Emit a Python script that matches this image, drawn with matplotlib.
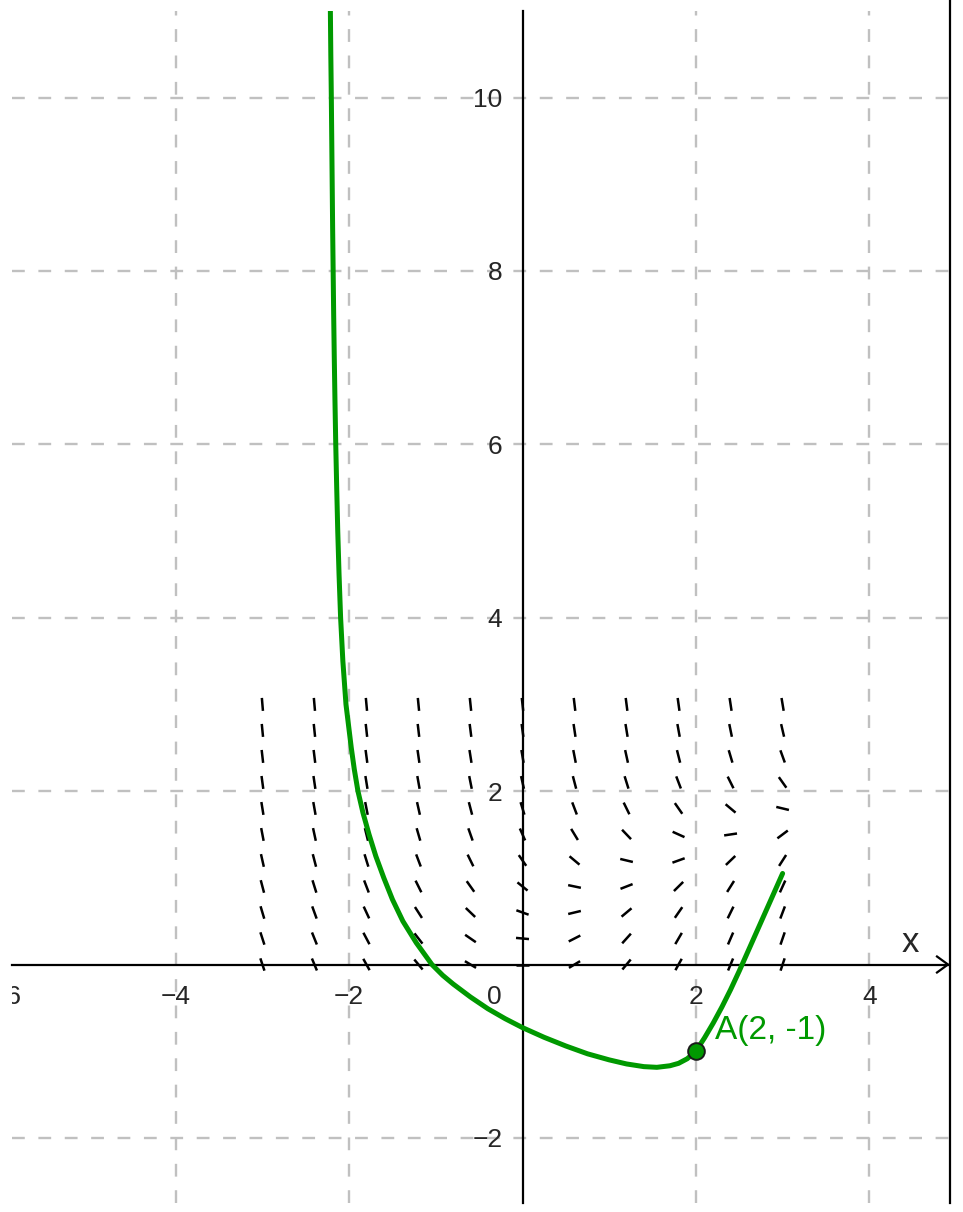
import matplotlib
matplotlib.use('Agg')
import numpy as np
import matplotlib.pyplot as plt
from matplotlib.collections import LineCollection
from matplotlib.lines import Line2D
from matplotlib import transforms

plt.rcParams['font.family'] = ['Liberation Sans', 'DejaVu Sans']
plt.rcParams['lines.scale_dashes'] = False
plt.rcParams['axes.unicode_minus'] = True

# ---------------- data ----------------
# slope field grid
field_x = [-3.0, -2.4, -1.8, -1.2, -0.6, 0.0, 0.6, 1.2, 1.8, 2.4, 3.0]
field_y = [0.0, 0.3, 0.6, 0.9, 1.2, 1.5, 1.8, 2.1, 2.4, 2.7, 3.0]
# dy/dx at each grid point (rows follow field_y, columns follow field_x)
field_slopes = [
    [-3.00, -2.40, -1.80, -1.20, -0.60, 0.00, 0.60, 1.20, 1.80, 2.40, 3.00],
    [-3.09, -2.49, -1.89, -1.29, -0.69, -0.09, 0.51, 1.11, 1.71, 2.31, 2.91],
    [-3.36, -2.76, -2.16, -1.56, -0.96, -0.36, 0.24, 0.84, 1.44, 2.04, 2.64],
    [-3.81, -3.21, -2.61, -2.01, -1.41, -0.81, -0.21, 0.39, 0.99, 1.59, 2.19],
    [-4.44, -3.84, -3.24, -2.64, -2.04, -1.44, -0.84, -0.24, 0.36, 0.96, 1.56],
    [-5.25, -4.65, -4.05, -3.45, -2.85, -2.25, -1.65, -1.05, -0.45, 0.15, 0.75],
    [-6.24, -5.64, -5.04, -4.44, -3.84, -3.24, -2.64, -2.04, -1.44, -0.84, -0.24],
    [-7.41, -6.81, -6.21, -5.61, -5.01, -4.41, -3.81, -3.21, -2.61, -2.01, -1.41],
    [-8.76, -8.16, -7.56, -6.96, -6.36, -5.76, -5.16, -4.56, -3.96, -3.36, -2.76],
    [-10.29, -9.69, -9.09, -8.49, -7.89, -7.29, -6.69, -6.09, -5.49, -4.89, -4.29],
    [-12.00, -11.40, -10.80, -10.20, -9.60, -9.00, -8.40, -7.80, -7.20, -6.60, -6.00],
]

# solution curve through A
curve_x = [-2.218, -2.211, -2.205, -2.200, -2.195, -2.190, -2.184, -2.178, -2.171,
           -2.163, -2.154, -2.143, -2.131, -2.116, -2.098, -2.072, -2.036, -1.975,
           -1.940, -1.898, -1.840, -1.770, -1.692, -1.600, -1.500, -1.380, -1.225,
           -1.045, -0.920, -0.800, -0.600, -0.400, -0.200, 0.000, 0.250, 0.500,
           0.750, 1.000, 1.200, 1.400, 1.550, 1.700, 1.800, 1.900, 2.000,
           2.100, 2.200, 2.300, 2.400, 2.500, 2.600, 2.700, 2.800, 2.900, 3.000]
curve_y = [11.2, 10.5, 10.0, 9.5, 9.0, 8.5, 8.0, 7.5, 7.0,
           6.5, 6.0, 5.5, 5.0, 4.5, 4.0, 3.5, 3.0, 2.5,
           2.25, 2.0, 1.75, 1.5, 1.25, 1.0, 0.75, 0.5, 0.25,
           0.0, -0.125, -0.225, -0.375, -0.51, -0.625, -0.728, -0.84, -0.94,
           -1.03, -1.10, -1.147, -1.178, -1.186, -1.168, -1.14, -1.087, -1.0,
           -0.845, -0.675, -0.49, -0.29, -0.075, 0.15, 0.375, 0.60, 0.825, 1.05]

point_x = [2.0]
point_y = [-1.0]
point_label = 'A(2, -1)'

x_ticks = [-4, -2, 2, 4]
x_tick_labels = ['\u22124', '\u22122', '2', '4']
y_ticks = [-2, 2, 4, 6, 8, 10]
y_tick_labels = ['\u22122', '2', '4', '6', '8', '10']
x_axis_label = 'x'

# ---------------- layout ----------------
W, H = 963, 1212
fig = plt.figure(figsize=(W / 100, H / 100), dpi=100)
fig.patch.set_facecolor('white')
L, R, T, B = 12, 950, 11, 1203
ax = fig.add_axes([L / W, 1 - B / H, (R - L) / W, (B - T) / H])
x0px, y0px, unit = 522.5, 964.5, 86.7
xmin, xmax = (L - x0px) / unit, (R - x0px) / unit
ymin, ymax = (y0px - B) / unit, (y0px - T) / unit
ax.set_xlim(xmin, xmax)
ax.set_ylim(ymin, ymax)

GREEN = '#009900'
GRID = '#c0c0c0'
TXT = '#262626'

# grid
ax.set_xticks(x_ticks)
ax.set_xticklabels(x_tick_labels)
ax.set_yticks(y_ticks)
ax.set_yticklabels(y_tick_labels)
ax.set_axisbelow(True)
ax.grid(True, color=GRID, lw=1.7, linestyle=(0, (9.2, 9.8)))

# axes through origin
for s in ['top', 'right']:
    ax.spines[s].set_visible(False)
ax.spines['left'].set_position(('data', 0))
ax.spines['bottom'].set_position(('data', 0))
for s in ['left', 'bottom']:
    ax.spines[s].set_linewidth(1.6)
    ax.spines[s].set_color('black')
    ax.spines[s].set_zorder(2.5)
arrow_tip = xmax - 2.0 / unit
ax.spines['bottom'].set_bounds(xmin, arrow_tip)
ax.tick_params(axis='x', length=0, pad=15.0, labelsize=19, labelcolor=TXT)
ax.tick_params(axis='y', length=0, pad=14.5, labelsize=19, labelcolor=TXT)

# arrow head on x axis
ah_len, ah_w = 11.0 / unit, 8.0 / unit
ax.plot([arrow_tip - ah_len, arrow_tip, arrow_tip - ah_len], [ah_w, 0, -ah_w],
        color='black', lw=1.6, clip_on=False, zorder=2.6, solid_joinstyle='miter')

# origin label and partially visible -6 label
ax.annotate('0', xy=(0, 0), xytext=(-15, -15.0), textcoords='offset points',
            ha='right', va='top', fontsize=19, color=TXT)
tr6 = transforms.offset_copy(ax.transData, fig=fig, x=3, y=-15.0, units='points')
ax.text(-6, 0, '\u22126', transform=tr6, ha='center', va='top', fontsize=19,
        color=TXT, clip_on=True)

ax.text(4.47, 0.144, x_axis_label, ha='center', va='baseline', fontsize=25, color=TXT)

# slope field
half = 0.075
segs = []
for j, yv in enumerate(field_y):
    for i, xv in enumerate(field_x):
        m = field_slopes[j][i]
        dx = half / np.sqrt(1 + m * m)
        dy = m * dx
        segs.append([(xv - dx, yv - dy), (xv + dx, yv + dy)])
ax.add_collection(LineCollection(segs, colors='black', linewidths=1.8, zorder=3))

# solution curve
ax.plot(curve_x, curve_y, color=GREEN, lw=3.6, zorder=4,
        solid_capstyle='round', solid_joinstyle='round')

# point A
ax.plot(point_x, point_y, 'o', ms=12, mfc=GREEN, mec='#1a1a1a', mew=1.4, zorder=5)
ax.annotate(point_label, xy=(point_x[0], point_y[0]), xytext=(13.5, 9),
            textcoords='offset points', ha='left', va='baseline',
            fontsize=24, color=GREEN, zorder=6)

# right border of the view
fig.add_artist(Line2D([950 / W, 950 / W], [1 - 1203 / H, 1.0], color='black',
                      lw=1.6, transform=fig.transFigure))

fig.savefig('out.png', dpi=100, facecolor='white')
